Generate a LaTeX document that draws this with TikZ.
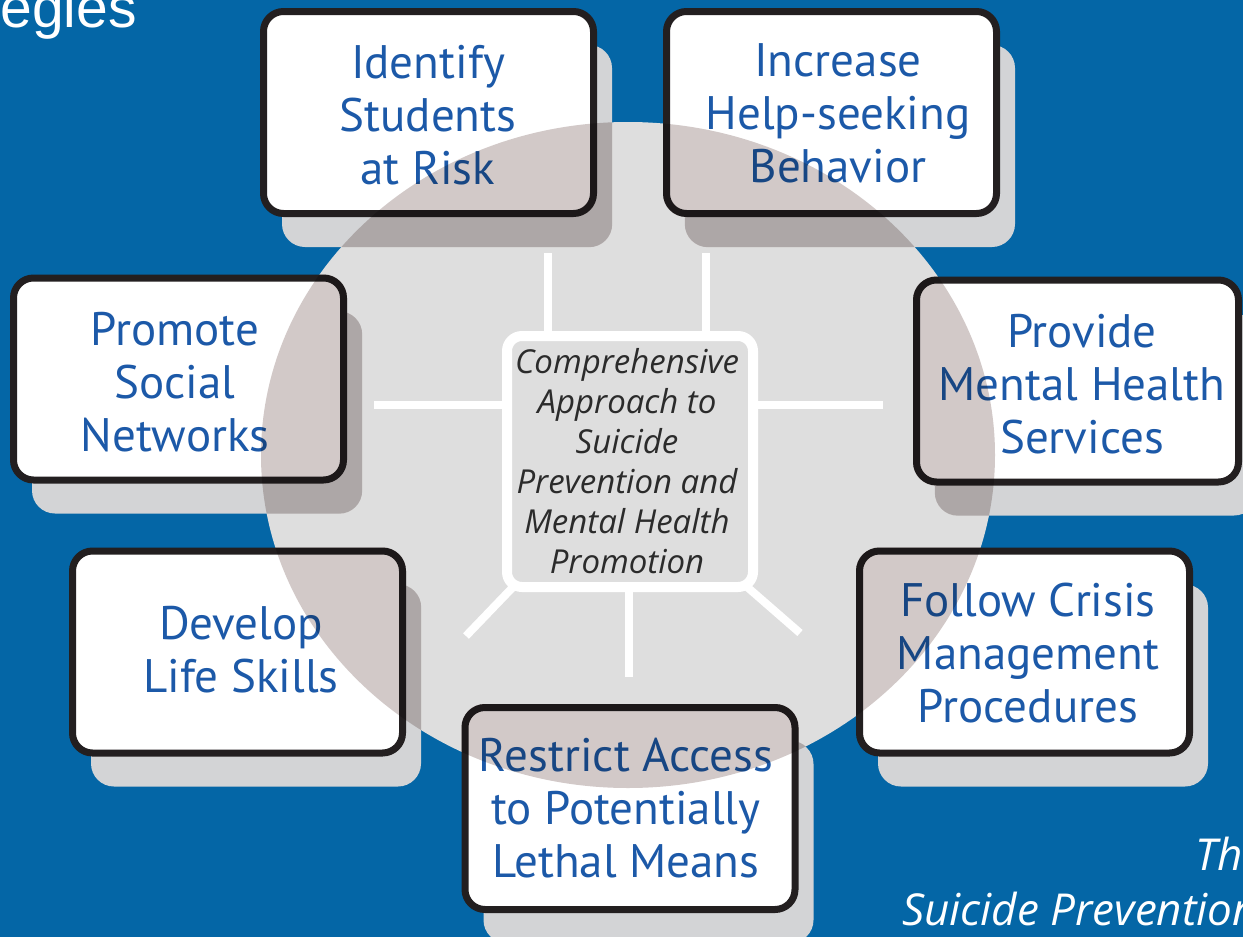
\documentclass[tikz,border=0pt]{standalone}
\usepackage{fontspec}
\setmainfont{PT Sans}
\newfontfamily\capfont{Open Sans}
\newfontfamily\titlefont{Liberation Sans}
\usetikzlibrary{calc}
\definecolor{bgblue}{HTML}{0466A6}
\definecolor{disc}{HTML}{DEDEDE}
\definecolor{shade}{HTML}{D3D4D6}
\definecolor{tint}{HTML}{D2C9C8}
\definecolor{edge}{HTML}{231F20}
\definecolor{txtblue}{HTML}{1C59A8}
\definecolor{centertxt}{HTML}{2B2B2B}
\begin{document}
\begin{tikzpicture}[x=1pt,y=-1pt,
  stratbox/.style={draw=edge, line width=7pt, fill=white, rounded corners=20pt,
    minimum width=330pt, minimum height=202pt, inner sep=0pt},
  shadowbox/.style={fill=shade, rounded corners=23pt, inner sep=0pt,
    minimum width=330pt, minimum height=202pt},
  boxtext/.style={align=center, text=txtblue, inner sep=0pt,
    font=\fontsize{47}{53}\selectfont},
  hubbox/.style={draw=white, line width=10pt, fill=disc, rounded corners=15pt,
    minimum width=246pt, minimum height=251pt, inner sep=0pt},
  hubtext/.style={align=center, text=centertxt, inner sep=0pt,
    font=\capfont\itshape\fontsize{33}{40}\selectfont},
  spoke/.style={draw=white, line width=8pt}]
\useasboundingbox (0,0) rectangle (1243,937);
\clip (0,0) rectangle (1243,937);
\fill[bgblue] (0,0) rectangle (1243,937);
% disc
\fill[disc] (628,455) ellipse [x radius=367, y radius=333];
% hub
\node[hubbox] (hub) at (630,461.5) {};
\coordinate (sU1) at (548,253);
\coordinate (sU2) at (706,253);
\coordinate (sL) at (374,405);
\coordinate (sR) at (883,405);
\coordinate (sB) at (629,677);
\coordinate (sDL) at (466,636);
\coordinate (sDR) at (800,633);
\draw[spoke] (hub.north -| sU1) -- (sU1);
\draw[spoke] (hub.north -| sU2) -- (sU2);
\draw[spoke] (hub.west |- sL) -- (sL);
\draw[spoke] (hub.east |- sR) -- (sR);
\draw[spoke] (hub.south -| sB) -- (sB);
\draw[spoke] ($(hub.south west)+(12,-6)$) -- (sDL);
\draw[spoke] ($(hub.south east)+(-12,-6)$) -- (sDR);
\node[hubtext] (hubt) at (627,461) {Comprehensive\\Approach to\\Suicide\\Prevention and\\Mental Health\\Promotion};
% shadows
\node[shadowbox] (b1s) at (447,146) {};
\node[shadowbox] (b2s) at (850,146) {};
\node[shadowbox] (b3s) at (197,412.5) {};
\node[shadowbox, minimum width=322pt] (b4s) at (1096,414.5) {};
\node[shadowbox] (b5s) at (256,685.5) {};
\node[shadowbox] (b6s) at (1043,685.5) {};
\node[shadowbox] (b7s) at (648.5,842) {};
% boxes
\node[stratbox] (b1) at (428.5,112.5) {};
\node[stratbox] (b2) at (831.5,112.5) {};
\node[stratbox] (b3) at (178.5,379) {};
\node[stratbox, minimum width=322pt] (b4) at (1077.5,381) {};
\node[stratbox] (b5) at (237.5,652) {};
\node[stratbox] (b6) at (1024.5,652) {};
\node[stratbox] (b7) at (630,808.5) {};
\node[boxtext] (b1t) at (428,115) {Identify\\Students\\at Risk};
\node[boxtext] (b2t) at (838,113) {Increase\\Help-seeking\\Behavior};
\node[boxtext] (b3t) at (175,382) {Promote\\Social\\Networks};
\node[boxtext] (b4t) at (1082,384) {Provide\\Mental Health\\Services};
\node[boxtext] (b5t) at (241,649.5) {Develop\\Life Skills};
\node[boxtext] (b6t) at (1028,653) {Follow Crisis\\Management\\Procedures};
\node[boxtext] (b7t) at (626,808) {Restrict Access\\to Potentially\\Lethal Means};
% tint of the disc over the boxes
\begin{scope}
  \clip[rounded corners=23pt]
    (b1.north west) rectangle (b1.south east) (b1s.north west) rectangle (b1s.south east)
    (b2.north west) rectangle (b2.south east) (b2s.north west) rectangle (b2s.south east)
    (b3.north west) rectangle (b3.south east) (b3s.north west) rectangle (b3s.south east)
    (b4.north west) rectangle (b4.south east) (b4s.north west) rectangle (b4s.south east)
    (b5.north west) rectangle (b5.south east) (b5s.north west) rectangle (b5s.south east)
    (b6.north west) rectangle (b6.south east) (b6s.north west) rectangle (b6s.south east)
    (b7.north west) rectangle (b7.south east) (b7s.north west) rectangle (b7s.south east);
  \fill[tint, blend mode=multiply] (628,455) ellipse [x radius=367, y radius=333];
\end{scope}
% captions
\node[anchor=base east, text=white, inner sep=0pt, font=\titlefont\fontsize{57}{60}\selectfont] (title) at (137,27) {egies};
\node[anchor=base west, text=white, inner sep=0pt, font=\capfont\itshape\fontsize{44}{50}\selectfont] (cap1) at (1195,870) {The};
\node[anchor=base west, text=white, inner sep=0pt, font=\capfont\itshape\fontsize{44}{50}\selectfont] (cap2) at (902,925) {Suicide Prevention};
\end{tikzpicture}
\end{document}
